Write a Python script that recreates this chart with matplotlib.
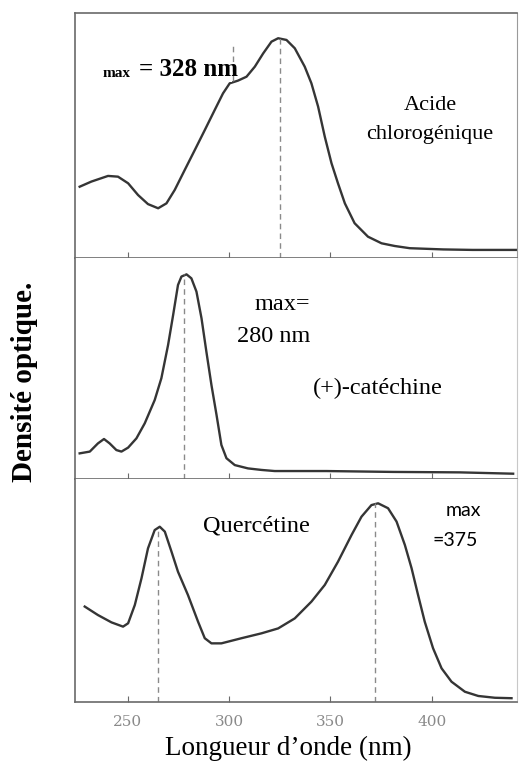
import matplotlib
matplotlib.use('Agg')
import matplotlib.pyplot as plt
from matplotlib.patches import Rectangle

W, H = 519, 774

# Acide chlorogenique (nm, densite optique relative)
wl_chloro = [226.3, 232.1, 240.3, 245.2, 250.2, 255.1, 260.0, 265.0, 269.1, 273.2,
             278.1, 283.1, 288.0, 292.9, 297.0, 300.3, 304.4, 308.6, 312.7, 316.8,
             320.9, 324.2, 328.3, 332.4, 337.3, 340.6, 343.9, 347.2, 350.5, 353.7,
             357.1, 361.9, 368.5, 375.2, 381.7, 389.1, 405.6, 420.0, 441.8]
od_chloro = [0.291, 0.312, 0.335, 0.332, 0.305, 0.257, 0.220, 0.203, 0.223, 0.278,
             0.359, 0.441, 0.522, 0.604, 0.672, 0.713, 0.724, 0.740, 0.781, 0.835,
             0.883, 0.897, 0.890, 0.856, 0.781, 0.713, 0.618, 0.495, 0.387, 0.305,
             0.223, 0.142, 0.087, 0.060, 0.049, 0.040, 0.035, 0.033, 0.033]

# (+)-catechine
wl_cat = [226.3, 231.3, 235.3, 238.3, 241.1, 244.4, 246.9, 250.2, 254.3, 258.4,
          263.3, 266.6, 269.9, 272.4, 274.8, 276.5, 279.0, 281.4, 283.9, 286.4,
          288.8, 291.3, 293.8, 296.2, 298.7, 302.8, 309.3, 316.0, 322.5, 348.0,
          380.9, 413.8, 440.1]
od_cat = [0.116, 0.124, 0.161, 0.181, 0.161, 0.131, 0.124, 0.142, 0.184, 0.252,
          0.357, 0.456, 0.606, 0.742, 0.878, 0.916, 0.926, 0.908, 0.848, 0.727,
          0.576, 0.425, 0.290, 0.154, 0.094, 0.063, 0.048, 0.041, 0.036, 0.036,
          0.032, 0.030, 0.024]

# Quercetine
wl_querc = [228.8, 235.3, 242.0, 247.7, 250.2, 253.5, 256.8, 260.0, 263.3, 265.8,
            268.3, 271.6, 274.8, 279.7, 284.7, 288.0, 291.3, 296.2, 306.1, 316.0,
            324.2, 332.4, 340.6, 347.2, 353.7, 360.4, 365.3, 370.2, 373.5, 378.4,
            382.6, 386.7, 390.0, 393.2, 396.5, 400.6, 404.8, 409.7, 416.3, 422.9,
            431.1, 439.3]
od_querc = [0.428, 0.390, 0.357, 0.338, 0.353, 0.435, 0.555, 0.689, 0.771, 0.786,
            0.764, 0.674, 0.584, 0.480, 0.360, 0.286, 0.263, 0.263, 0.286, 0.308,
            0.330, 0.375, 0.450, 0.525, 0.629, 0.749, 0.831, 0.883, 0.891, 0.869,
            0.809, 0.704, 0.600, 0.480, 0.360, 0.241, 0.151, 0.091, 0.046, 0.027,
            0.019, 0.017]

# lignes pointillees (position, bas, haut)
drops_chloro = [(325.0, 0.0, 0.897), (302.0, 0.724, 0.878)]
drops_cat = [(277.8, 0.0, 0.926)]
drops_querc = [(265.0, 0.0, 0.786), (371.9, 0.0, 0.891)]

xticks = [250, 300, 350, 400]
xlim = (224, 442)

serif = 'Liberation Serif'
line_col = '#353535'
spine_col = '#6a6a6a'

fig = plt.figure(figsize=(W / 100, H / 100), dpi=100)

def box(top, bottom):
    return [75 / W, 1 - bottom / H, (517 - 75) / W, (bottom - top) / H]

ax1 = fig.add_axes(box(13, 258))
ax2 = fig.add_axes(box(258, 479))
ax3 = fig.add_axes(box(479, 702))

panels = [(ax1, wl_chloro, od_chloro, drops_chloro),
          (ax2, wl_cat, od_cat, drops_cat),
          (ax3, wl_querc, od_querc, drops_querc)]

for ax, wl, od, drops in panels:
    ax.plot(wl, od, color=line_col, lw=1.7, solid_joinstyle='round')
    for xd, y0, y1 in drops:
        ax.vlines(xd, y0, y1, colors='#8a8a8a', linestyles=(0, (4, 3)), lw=1.0)
    ax.set_xlim(*xlim)
    ax.set_ylim(0, 1)
    ax.set_yticks([])
    ax.set_xticks(xticks)
    ax.tick_params(axis='x', direction='in', length=4, color=spine_col, labelbottom=False)
    for s in ['left', 'bottom']:
        ax.spines[s].set_color(spine_col)
        ax.spines[s].set_linewidth(1.2)
    ax.spines['right'].set_color('#c8c8c8')
    ax.spines['right'].set_linewidth(0.8)
    ax.spines['top'].set_visible(False)

ax1.spines['top'].set_visible(True)
ax1.spines['top'].set_color(spine_col)
ax1.spines['top'].set_linewidth(1.2)
ax1.spines['right'].set_color('#9a9a9a')

ax3.tick_params(axis='x', labelbottom=True, labelcolor='#8a8a8a', labelsize=11, pad=9)
for lab in ax3.get_xticklabels():
    lab.set_family('DejaVu Serif')

def px(x, y):
    return x / W, 1 - y / H

# cadre blanc derriere l'etiquette du haut
fig.add_artist(Rectangle(px(97, 82), 135 / W, 47 / H, transform=fig.transFigure,
                         fc='white', ec='none', zorder=2))

# annotations
fig.text(*px(103, 77), 'max', family=serif, weight='bold', fontsize=11, va='baseline', zorder=3)
fig.text(*px(139, 76), '= 328 nm', family=serif, weight='bold', fontsize=18, va='baseline', zorder=3)
fig.text(*px(430, 105), 'Acide', family=serif, fontsize=16, ha='center', va='center')
fig.text(*px(430, 134), 'chlorogénique', family=serif, fontsize=16, ha='center', va='center')

fig.text(*px(310, 305), 'max=', family=serif, fontsize=17.5, ha='right', va='center')
fig.text(*px(310, 337), '280 nm', family=serif, fontsize=17.5, ha='right', va='center')
fig.text(*px(377.5, 388), '(+)-catéchine', family=serif, fontsize=17.5, ha='center', va='center')

fig.text(*px(256.5, 526), 'Quercétine', family=serif, fontsize=17.5, ha='center', va='center')
fig.text(*px(463, 510), 'max', family='Lato', fontsize=14, ha='center', va='center')
fig.text(*px(455.5, 540), '=375', family='Lato', fontsize=14, ha='center', va='center')

fig.text(*px(288, 748), 'Longueur d\u2019onde (nm)', family=serif, fontsize=19.5, ha='center', va='center')
fig.text(*px(25, 382), 'Densité optique.', family=serif, weight='bold', fontsize=21,
         rotation=90, ha='center', va='center')

fig.savefig('out.png', dpi=100)
